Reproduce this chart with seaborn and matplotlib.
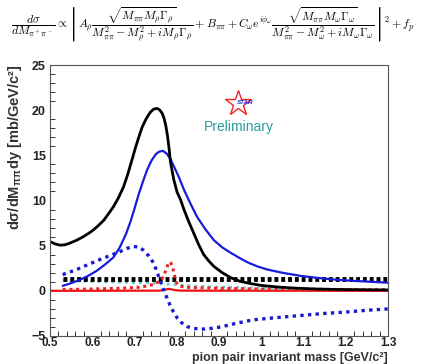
import numpy as np
import pandas as pd
import matplotlib
matplotlib.use("Agg")
import matplotlib.pyplot as plt
import seaborn as sns
from matplotlib.ticker import MultipleLocator

# ---- data ----
data_x = [0.500, 0.512, 0.524, 0.536, 0.548, 0.563, 0.579, 0.591, 0.603, 0.615, 0.627,
          0.638, 0.650, 0.662, 0.674, 0.684, 0.694, 0.702, 0.710, 0.718, 0.726, 0.732,
          0.738, 0.745, 0.753, 0.759, 0.765, 0.770, 0.774, 0.778, 0.782, 0.785, 0.793,
          0.801, 0.809, 0.817, 0.828, 0.840, 0.852, 0.864, 0.876, 0.888, 0.908, 0.928,
          0.950, 0.975, 1.000, 1.040, 1.080, 1.120, 1.160, 1.200, 1.250, 1.300]
data_y = [5.45, 5.2, 5.05, 5.1, 5.3, 5.6, 6.0, 6.35, 6.75, 7.25, 7.8,
          8.5, 9.3, 10.3, 11.5, 12.9, 14.5, 15.8, 17.0, 18.1, 18.9, 19.4,
          19.8, 20.1, 20.2, 20.05, 19.7, 19.1, 18.3, 17.2, 15.7, 14.3, 12.3,
          10.9, 10.1, 9.0, 7.7, 6.4, 5.1, 4.0, 3.3, 2.7, 2.0, 1.45,
          1.05, 0.8, 0.6, 0.42, 0.3, 0.22, 0.17, 0.14, 0.12, 0.1]

rho_x = [0.530, 0.550, 0.570, 0.590, 0.610, 0.630, 0.650, 0.665, 0.680, 0.690, 0.700,
         0.710, 0.720, 0.730, 0.740, 0.750, 0.758, 0.767, 0.776, 0.785, 0.793, 0.805,
         0.817, 0.832, 0.848, 0.868, 0.888, 0.908, 0.928, 0.950, 0.970, 0.991, 1.015,
         1.050, 1.094, 1.130, 1.172, 1.220, 1.260, 1.300]
rho_y = [0.55, 0.85, 1.2, 1.65, 2.2, 2.9, 3.7, 4.8, 6.3, 7.6, 9.1,
         10.7, 12.1, 13.4, 14.4, 15.1, 15.4, 15.5, 15.2, 14.6, 13.8, 12.6,
         11.2, 9.7, 8.2, 6.8, 5.6, 4.8, 4.2, 3.6, 3.1, 2.7, 2.35,
         2.0, 1.65, 1.45, 1.25, 1.1, 1.0, 0.9]

interf_x = [0.530, 0.560, 0.590, 0.620, 0.645, 0.666, 0.682, 0.698, 0.710, 0.721, 0.733,
            0.745, 0.751, 0.757, 0.763, 0.769, 0.777, 0.785, 0.793, 0.801, 0.812, 0.824,
            0.840, 0.856, 0.875, 0.904, 0.940, 0.982, 1.040, 1.100, 1.150, 1.200, 1.250,
            1.300]
interf_y = [1.8, 2.3, 2.9, 3.5, 3.95, 4.35, 4.7, 4.9, 4.85, 4.5, 3.9,
            3.1, 2.4, 1.6, 0.85, 0.1, -0.8, -1.7, -2.4, -3.0, -3.55, -3.95,
            -4.15, -4.25, -4.2, -4.0, -3.6, -3.2, -2.95, -2.7, -2.5, -2.35, -2.15,
            -2.0]

bkg_x = [0.53, 1.30]
bkg_y = [1.35, 1.35]

fp_x = [0.53, 0.60, 0.67, 0.75, 0.79, 0.83, 0.88, 0.95, 1.0, 1.1, 1.2, 1.3]
fp_y = [1.15, 1.05, 0.95, 0.85, 0.7, 0.55, 0.45, 0.35, 0.3, 0.22, 0.16, 0.12]

omega_x = [0.530, 0.600, 0.666, 0.714, 0.745, 0.761, 0.769, 0.775, 0.780, 0.785, 0.790,
           0.794, 0.799, 0.806, 0.820, 0.860, 0.900, 1.000, 1.100, 1.200, 1.300]
omega_y = [0.15, 0.2, 0.28, 0.4, 0.7, 1.1, 1.6, 2.4, 3.0, 3.2, 2.7,
           1.8, 0.95, 0.55, 0.4, 0.32, 0.28, 0.2, 0.15, 0.12, 0.1]

zero_x = [0.500, 0.760, 0.772, 0.780, 0.786, 0.795, 0.810, 1.300]
zero_y = [0.0, 0.02, 0.12, 0.22, 0.18, 0.08, 0.02, 0.0]

x_ticks = [0.5, 0.6, 0.7, 0.8, 0.9, 1.0, 1.1, 1.2, 1.3]
x_ticklabels = ["0.5", "0.6", "0.7", "0.8", "0.9", "1", "1.1", "1.2", "1.3"]
y_ticks = [-5, 0, 5, 10, 15, 20, 25]

sns.set_theme(style="white")
plt.rcParams["font.family"] = ["Liberation Sans", "DejaVu Sans"]
plt.rcParams["mathtext.fontset"] = "cm"

fig = plt.figure(figsize=(4.22, 3.64), dpi=100)
ax = fig.add_axes([50/422, 1-336/364, 338/422, 271/364])

def line(x, y, color, lw, ls="-"):
    sns.lineplot(x=x, y=y, ax=ax, color=color, linewidth=lw, linestyle=ls,
                 estimator=None, sort=False)

line(zero_x, zero_y, "#ee1111", 1.6)
line(fp_x, fp_y, "#66cccc", 2.0, (0, (1, 1.5)))
line(bkg_x, bkg_y, "black", 3.5, (0, (0.8, 0.6)))
line(omega_x, omega_y, "#ee2222", 2.2, (0, (1, 1.2)))
line(interf_x, interf_y, "#1a1acc", 2.4, (0, (1, 1.3)))
line(rho_x, rho_y, "#1a1add", 1.6)
line(data_x, data_y, "black", 2.0)

ax.set_xlim(0.5, 1.3)
ax.set_ylim(-5, 25)
ax.set_xticks(x_ticks)
ax.set_xticklabels(x_ticklabels)
ax.set_yticks(y_ticks)
ax.xaxis.set_minor_locator(MultipleLocator(0.02))
ax.yaxis.set_minor_locator(MultipleLocator(1))
ax.tick_params(axis="both", which="both", direction="in", top=False, right=False,
               colors="#333333", labelcolor="#222222", labelsize=9)
ax.tick_params(which="major", length=7, width=0.8)
ax.tick_params(axis="x", which="major", pad=0.5, labelsize=8.5)
ax.tick_params(axis="y", which="major", pad=3)
ax.tick_params(which="minor", length=3.5, width=0.7, left=True, bottom=True)
for lab in ax.get_xticklabels() + ax.get_yticklabels():
    lab.set_fontweight("bold")
for s in ax.spines.values():
    s.set_color("#555555")
    s.set_linewidth(0.8)
ax.set_xlabel("")
ax.set_ylabel("")

fig.text(388/422, 1-363.5/364, "pion pair invariant mass [GeV/c\u00b2]",
         ha="right", va="bottom", fontsize=9, fontweight="bold", color="#333333")
fig.text(15/422, 1-64/364,
         "d\u03c3/dM$_{\\mathregular{\\pi\\pi}}$dy [mb/GeV/c\u00b2]",
         rotation=90, ha="center", va="top", fontsize=10.5, fontweight="bold",
         color="#333333")

eq = (r"$\dfrac{d\sigma}{dM_{\pi^+\pi^-}} \propto \left| A_\rho "
      r"\dfrac{\sqrt{M_{\pi\pi}M_\rho\Gamma_\rho}}{M_{\pi\pi}^2 - M_\rho^2 + iM_\rho\Gamma_\rho}"
      r" + B_{\pi\pi} + C_\omega e^{i\phi_\omega} "
      r"\dfrac{\sqrt{M_{\pi\pi}M_\omega\Gamma_\omega}}{M_{\pi\pi}^2 - M_\omega^2 + iM_\omega\Gamma_\omega}"
      r" \right|^2 + f_p$")
fig.text(0.505, 1-25/364, eq, ha="center", va="center", fontsize=8.5, color="black")

ax.plot([0.556], [0.86], marker="*", markersize=19, markerfacecolor="none",
        markeredgecolor="#ee2222", markeredgewidth=1.0, transform=ax.transAxes)
ax.text(0.578, 0.862, "STAR", transform=ax.transAxes, ha="center", va="center",
        fontsize=4.5, fontweight="bold", fontstyle="italic", color="#2222cc")
ax.text(0.56, 0.77, "Preliminary", transform=ax.transAxes, ha="center", va="center",
        fontsize=10, color="#2a9d9d")

fig.savefig("out.png", dpi=100)
